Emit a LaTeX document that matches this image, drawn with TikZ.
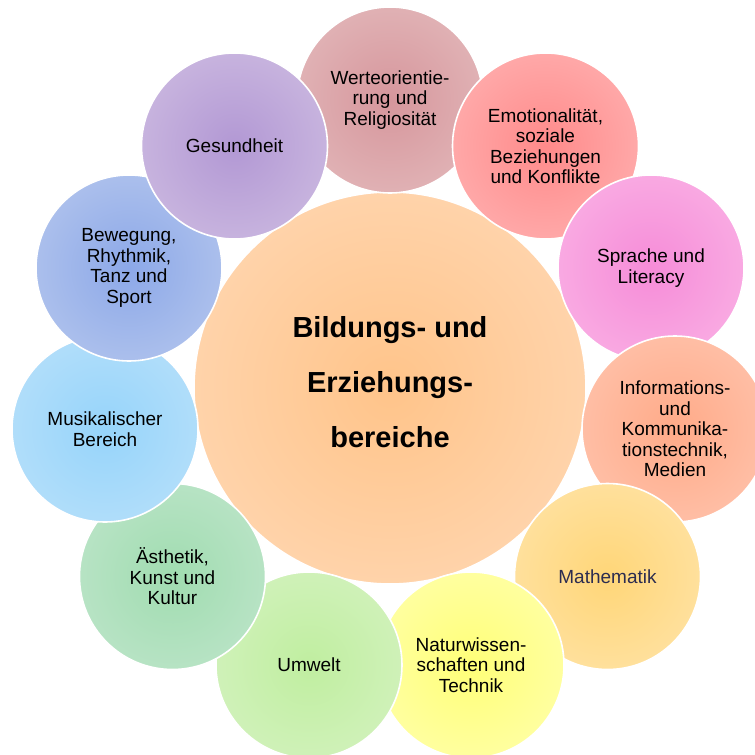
\documentclass[tikz,border=0pt]{standalone}
\usepackage{fontspec}
\setmainfont{Liberation Sans}
\makeatletter
\pgfdeclareradialshading[tikz@radial@inner,tikz@radial@outer]{softradial}{\pgfpointorigin}{color(0bp)=(tikz@radial@inner); color(50bp)=(tikz@radial@outer)}
\makeatother
\definecolor{werteIn}{RGB}{214,150,156}\definecolor{werteOut}{RGB}{234,204,204}
\definecolor{emoIn}{RGB}{255,138,138}\definecolor{emoOut}{RGB}{255,198,198}
\definecolor{sprIn}{RGB}{246,140,216}\definecolor{sprOut}{RGB}{252,198,236}
\definecolor{infIn}{RGB}{255,170,136}\definecolor{infOut}{RGB}{255,210,194}
\definecolor{matIn}{RGB}{255,214,120}\definecolor{matOut}{RGB}{255,234,192}
\definecolor{natIn}{RGB}{255,255,120}\definecolor{natOut}{RGB}{255,255,198}
\definecolor{umwIn}{RGB}{192,238,160}\definecolor{umwOut}{RGB}{222,245,208}
\definecolor{aesIn}{RGB}{160,220,176}\definecolor{aesOut}{RGB}{206,234,216}
\definecolor{musIn}{RGB}{150,212,250}\definecolor{musOut}{RGB}{202,231,250}
\definecolor{bewIn}{RGB}{140,168,232}\definecolor{bewOut}{RGB}{202,214,240}
\definecolor{gesIn}{RGB}{178,152,212}\definecolor{gesOut}{RGB}{220,206,232}
\definecolor{bigIn}{RGB}{255,196,138}\definecolor{bigOut}{RGB}{255,226,202}
\definecolor{mathtext}{RGB}{44,44,80}
\tikzset{
  bubble/.style 2 args={circle, minimum size=186pt, inner sep=0pt, draw=white, line width=1.6pt,
    inner color=#1, outer color=#2, shading=softradial, align=center,
    font=\fontsize{19}{20.5}\selectfont, text=black},
  hub/.style={circle, minimum size=392pt, inner sep=0pt, draw=white, line width=1.6pt,
    inner color=bigIn, outer color=bigOut, shading=softradial},
  hubtext/.style={align=center, font=\fontsize{29}{55}\selectfont\bfseries, text=black}
}
\begin{document}
\begin{tikzpicture}[x=1pt,y=-1pt]
\useasboundingbox (0,0) rectangle (755,755);
\clip (0,0) rectangle (755,755);
\node[hub] (hub) at (390,388) {};
\node[hubtext] (title) at (390,382) {Bildungs- und\\Erziehungs-\\bereiche};
\node[bubble={werteIn}{werteOut}] (werte) at (390,100) {Werteorientie-\\rung und\\Religiosität};
\node[bubble={emoIn}{emoOut}] (emo) at (545.5,146) {Emotionalität,\\soziale\\Beziehungen\\und Konflikte};
\node[bubble={sprIn}{sprOut}] (spr) at (651,268) {Sprache und\\Literacy};
\node[bubble={infIn}{infOut}] (inf) at (675,429) {Informations-\\und\\Kommunika-\\tionstechnik,\\Medien};
\node[bubble={matIn}{matOut}, text=mathtext] (mat) at (607.5,576.5) {Mathematik};
\node[bubble={natIn}{natOut}] (nat) at (471,665) {Naturwissen-\\schaften und\\Technik};
\node[bubble={umwIn}{umwOut}] (umw) at (309,665) {Umwelt};
\node[bubble={aesIn}{aesOut}] (aes) at (172.5,576.5) {Ästhetik,\\Kunst und\\Kultur};
\node[bubble={musIn}{musOut}] (mus) at (105,429) {Musikalischer\\Bereich};
\node[bubble={bewIn}{bewOut}] (bew) at (129,268) {Bewegung,\\Rhythmik,\\Tanz und\\Sport};
\node[bubble={gesIn}{gesOut}] (ges) at (234.5,146) {Gesundheit};
\end{tikzpicture}
\end{document}
